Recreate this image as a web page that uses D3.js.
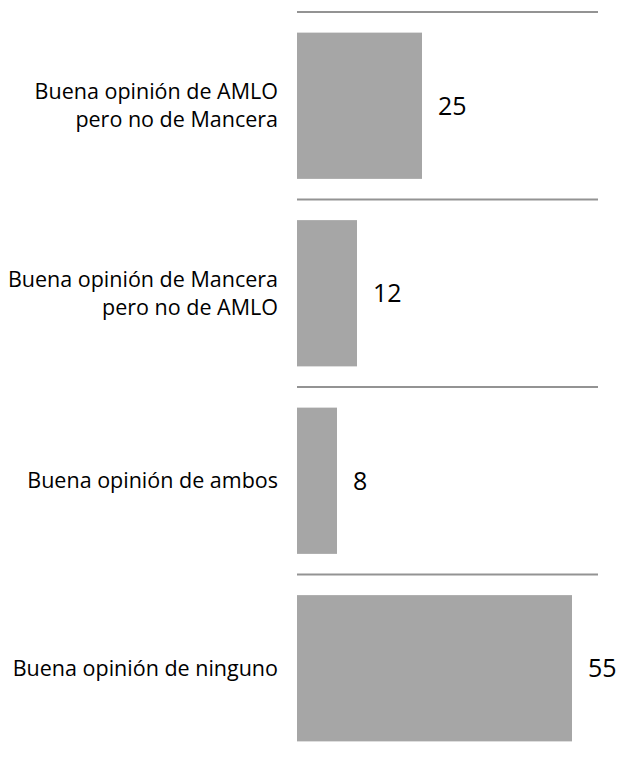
<!DOCTYPE html>
<html>
<head>
<meta charset="utf-8">
<script src="https://cdn.jsdelivr.net/npm/d3@7"></script>
<style>
	body { margin: 0; background: #fff; }
	text { font-family: 'Open Sans', sans-serif; fill: #000; }
</style>
</head>
<body>
<div id="chart"></div>
<script>
/* global d3 */

const categories = [
	'Buena opinión de AMLO|pero no de Mancera',
	'Buena opinión de Mancera|pero no de AMLO',
	'Buena opinión de ambos',
	'Buena opinión de ninguno',
];
const values = [25, 12, 8, 55];

const width = 623;
const height = 758;

const svg = d3.select('#chart').append('svg')
	.attr('width', width)
	.attr('height', height);

const x = d3.scaleLinear()
	.domain([0, 60])
	.range([297, 597]);

const y = d3.scaleBand()
	.domain(categories)
	.range([12, 762])
	.paddingInner(0.22)
	.paddingOuter(0.11);

const gap = y.step() * y.paddingInner() / 2;

// separator lines on top of each band
svg.selectAll('.sep')
	.data(categories)
	.enter().append('line')
	.attr('class', 'sep')
	.attr('x1', x(0))
	.attr('x2', x(60) + 1)
	.attr('y1', d => y(d) - gap)
	.attr('y2', d => y(d) - gap)
	.attr('stroke', '#939393')
	.attr('stroke-width', 2);

const rows = categories.map((c, i) => ({cat: c, value: values[i]}));

svg.selectAll('.bar')
	.data(rows)
	.enter().append('rect')
	.attr('class', 'bar')
	.attr('x', x(0))
	.attr('y', d => y(d.cat))
	.attr('width', d => x(d.value) - x(0))
	.attr('height', y.bandwidth())
	.attr('fill', '#a6a6a6');

svg.selectAll('.val')
	.data(rows)
	.enter().append('text')
	.attr('class', 'val')
	.attr('x', d => x(d.value) + 16)
	.attr('y', d => y(d.cat) + y.bandwidth() / 2)
	.attr('dy', '0.35em')
	.style('font-size', '25px')
	.text(d => d.value);

const labels = svg.selectAll('.label')
	.data(rows)
	.enter().append('text')
	.attr('class', 'label')
	.attr('text-anchor', 'end')
	.style('font-size', '21.5px')
	.attr('y', d => y(d.cat) + y.bandwidth() / 2);

labels.each(function(d) {
	const lines = d.cat.split('|');
	const sel = d3.select(this);
	lines.forEach((line, i) => {
		sel.append('tspan')
			.attr('x', 278)
			.attr('dy', i === 0 ? `${0.35 - (lines.length - 1) * 0.65}em` : '1.3em')
			.text(line);
	});
});
</script>
</body>
</html>
